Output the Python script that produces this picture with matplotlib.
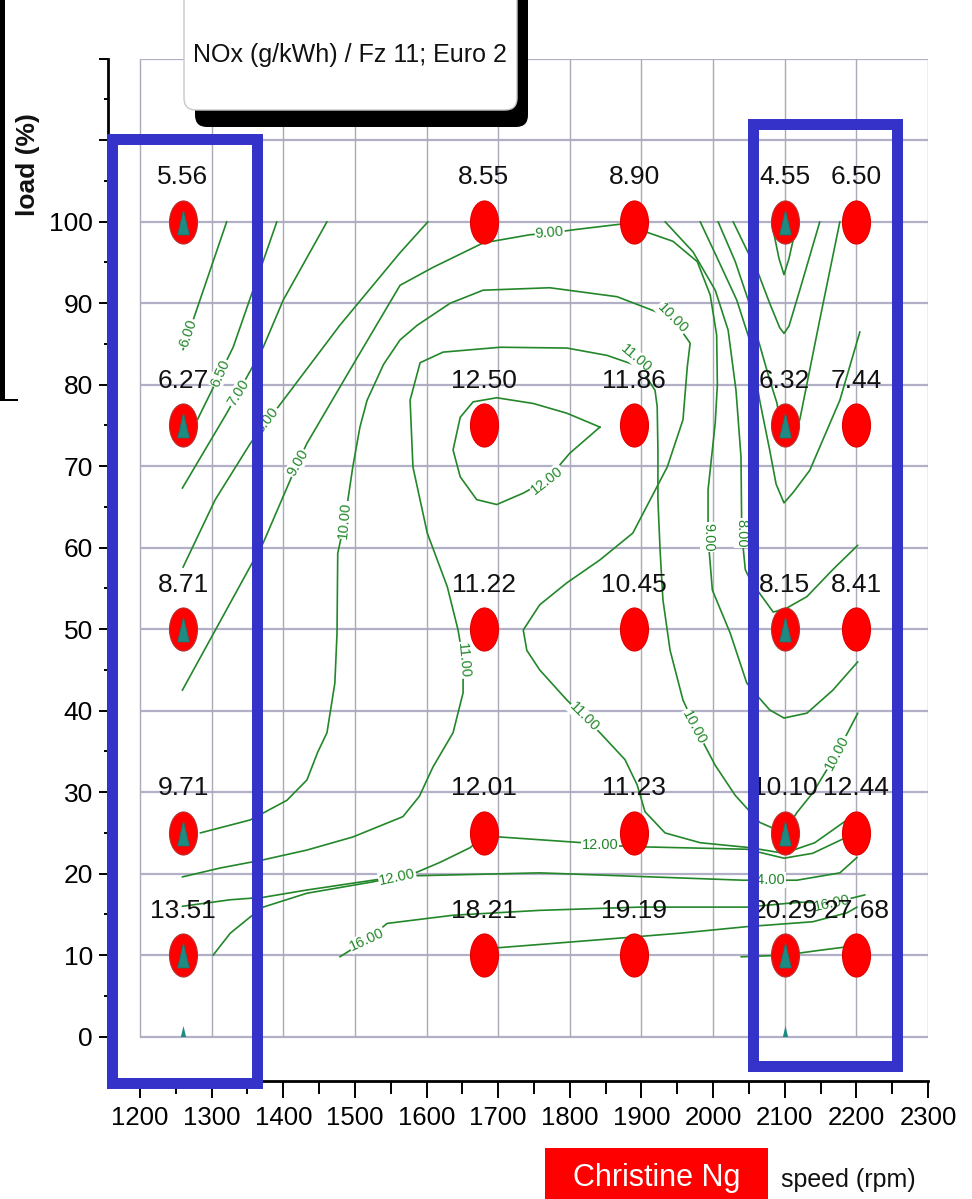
import matplotlib
matplotlib.use('Agg')
import matplotlib.pyplot as plt
from matplotlib.path import Path
from matplotlib.transforms import Affine2D
from matplotlib.patches import Rectangle, FancyBboxPatch
from matplotlib import font_manager as fm

# --- measured points: NOx (g/kWh) at speed (rpm) / load (%)
speeds = [1260, 1680, 1890, 2100, 2200]
loads = [100, 75, 50, 25, 10]
nox = [
    [5.56, 6.27, 8.71, 9.71, 13.51],    # 1260 rpm
    [8.55, 12.50, 11.22, 12.01, 18.21],  # 1680 rpm
    [8.90, 11.86, 10.45, 11.23, 19.19],  # 1890 rpm
    [4.55, 6.32, 8.15, 10.10, 20.29],    # 2100 rpm
    [6.50, 7.44, 8.41, 12.44, 27.68],    # 2200 rpm
]
tri_speeds = [1260, 2100]          # columns marked with a triangle
x_ticks = list(range(1200, 2301, 100))
y_ticks = list(range(0, 121, 10))
y_ticklabels = [str(v) if v <= 100 else '' for v in y_ticks]

# --- iso-NOx lines (speed rpm, load %)
c500 = [(2082, 99.8), (2092, 95.5), (2099, 93.5), (2106, 95.5), (2117, 99.8)]
c600_left = [(1321, 100), (1260, 84.3)]
c600_right = [(2028, 100), (2044, 97.1), (2063, 93.7), (2079, 90.0), (2093, 87.0), (2099, 86.3),
              (2106, 87.2), (2121, 91.6), (2149, 100)]
c650_left = [(1391, 100), (1330, 84.6), (1280, 75.7)]
c650_right = [(2007, 100), (2031, 95.1), (2049, 90.4), (2063, 85.5), (2079, 80.6), (2089, 77.8),
              (2099, 72.6), (2121, 75.7), (2149, 88.0), (2177, 100)]
c700_left = [(1461, 100), (1400, 90.4), (1372, 84.6), (1337, 79.0), (1321, 76.5), (1259, 67.3)]
c700_right = [(1982, 100), (2005, 95.7), (2033, 90.4), (2051, 85.5), (2065, 78.1), (2079, 72.0),
              (2088, 67.8), (2099, 65.5), (2112, 66.8), (2135, 69.5), (2177, 78.1), (2205, 86.5)]
c800_left = [(1602, 100), (1563, 96.2), (1479, 87.3), (1400, 78.1), (1354, 72.8), (1305, 65.9), (1260, 57.6)]
c800_right = [(1933, 100), (1972, 96.3), (2003, 91.6), (2021, 86.7), (2032, 79.3), (2039, 71.1),
              (2040, 61.8), (2045, 57.3), (2055, 55.5), (2065, 54.4), (2084, 52.1), (2103, 52.6),
              (2131, 54.0), (2167, 57.3), (2202, 60.3)]
c900 = [(1259, 42.5), (1372, 60.6), (1420, 70.4), (1433, 72.8), (1493, 81.8), (1563, 92.2),
        (1609, 94.4), (1679, 97.4), (1744, 98.4), (1772, 98.6), (1804, 99.0), (1880, 99.8),
        (1908, 98.7), (1944, 97.6), (1978, 95.1), (1996, 91.0), (2005, 86.1), (2006, 80.0),
        (2003, 75.3), (1993, 67.1), (1993, 61.3), (1999, 54.8), (2024, 49.5), (2047, 43.4),
        (2063, 41.7), (2079, 40.1), (2099, 39.1), (2131, 39.7), (2167, 42.5), (2202, 46.0)]
# the map's 10 and 11 lines swap over right of 11.86, drawn as they appear
c1000 = [(1284, 25.0), (1354, 26.6), (1405, 29.0), (1433, 31.5), (1448, 34.9), (1461, 37.3),
         (1472, 43.4), (1475, 49.5), (1476, 59.3), (1486, 63.4), (1497, 69.9), (1507, 74.8),
         (1517, 78.1), (1540, 82.5), (1563, 85.5), (1587, 87.3), (1633, 90.0), (1679, 91.6),
         (1772, 91.9), (1866, 90.8), (1943, 88.2), (1968, 85.1), (1964, 82.2), (1958, 75.7),
         (1936, 69.9), (1888, 61.8), (1842, 58.5), (1796, 55.7), (1758, 53.0), (1735, 49.9),
         (1740, 47.4), (1758, 45.0), (1796, 41.3), (1842, 37.3), (1877, 34.0), (1894, 30.9),
         (1905, 27.6), (1933, 25.0), (1982, 23.8), (2051, 23.2), (2099, 22.5), (2142, 23.8),
         (2187, 26.6)]
c1100 = [(1259, 19.6), (1312, 20.7), (1372, 21.7), (1433, 22.9), (1497, 24.5), (1567, 27.0),
         (1590, 29.5), (1609, 33.1), (1637, 37.3), (1651, 42.2), (1651, 46.2), (1644, 49.9),
         (1629, 55.2), (1601, 61.8), (1581, 69.9), (1577, 78.1), (1591, 82.7), (1623, 84.0),
         (1703, 84.6), (1796, 84.5), (1852, 83.6), (1898, 82.2), (1919, 79.3), (1922, 77.3),
         (1923, 72.0), (1923, 65.9), (1926, 59.7), (1930, 53.6), (1940, 47.4), (1958, 41.3),
         (1982, 36.8), (2003, 33.3), (2031, 29.6), (2065, 26.3), (2099, 25.0), (2117, 27.5),
         (2139, 29.9), (2173, 34.8), (2202, 39.7)]
c1200_loop = [(1842, 74.8), (1796, 76.5), (1749, 77.7), (1698, 78.4), (1665, 77.9), (1647, 76.0),
              (1637, 72.0), (1647, 68.7), (1670, 65.9), (1698, 65.3), (1735, 66.7), (1768, 68.3),
              (1800, 71.6), (1842, 74.8)]
c1200 = [(1259, 16.0), (1326, 16.8), (1372, 17.1), (1433, 18.0), (1525, 19.2), (1559, 19.6),
         (1587, 20.2), (1619, 21.4), (1661, 23.2), (1679, 24.6), (1703, 24.5), (1818, 23.8),
         (1842, 23.5), (1898, 23.3), (2047, 23.0), (2099, 21.9), (2139, 22.5), (2187, 24.5),
         (2202, 25.0)]
c1400 = [(1302, 10.0), (1326, 12.7), (1354, 14.7), (1372, 15.9), (1433, 17.6), (1525, 19.0),
         (1563, 19.7), (1758, 20.1), (2042, 19.2), (2075, 19.2), (2117, 19.2), (2177, 20.1),
         (2201, 22.0)]
c1600 = [(1479, 9.8), (1517, 11.9), (1545, 13.9), (1637, 14.9), (1758, 15.5), (1898, 15.9),
         (2047, 15.9), (2121, 16.5), (2166, 16.4), (2212, 17.4)]
c1800 = [(1680, 10.5), (1698, 10.9), (1842, 11.9), (1954, 12.7), (2047, 13.5), (2139, 14.1),
         (2187, 15.2), (2201, 15.9)]
c2000 = [(2039, 9.8), (2099, 10.0), (2149, 10.6), (2202, 11.2)]
iso_lines = [c500, c600_left, c600_right, c650_left, c650_right, c700_left, c700_right,
             c800_left, c800_right, c900, c1000, c1100, c1200_loop, c1200, c1400, c1600,
             c1800, c2000]

# line labels: text, speed, load, angle
iso_labels = [
    ('6.00', 1267, 86.3, 71), ('6.50', 1312, 81.4, 66), ('7.00', 1337, 79.0, 58),
    ('8.00', 1378, 75.7, 52), ('9.00', 1420, 70.4, 60), ('10.00', 1486, 63.4, 85),
    ('9.00', 1772, 98.6, 5), ('10.00', 1943, 88.2, -45), ('11.00', 1893, 83.2, -40),
    ('12.00', 1768, 68.3, 38), ('11.00', 1651, 46.2, -85), ('9.00', 1993, 61.3, -90),
    ('8.00', 2040, 61.8, -90), ('10.00', 1973, 38.0, -62), ('11.00', 1820, 39.2, -45),
    ('12.00', 1842, 23.5, 0), ('12.00', 1559, 19.6, 12), ('16.00', 1517, 11.9, 25),
    ('14.00', 2075, 19.2, 0), ('10.00', 2173, 34.8, 62), ('16.00', 2166, 16.4, 12),
]

names = {f.name for f in fm.fontManager.ttflist}
if 'Liberation Sans Narrow' in names:
    FONT, k = 'Liberation Sans Narrow', 1.2
else:
    FONT, k = 'Liberation Sans', 1.0
plt.rcParams['font.family'] = [FONT, 'DejaVu Sans']

GREEN = '#23872a'
BLUE = '#3432c8'

fig = plt.figure(figsize=(9.72, 11.99), dpi=100)
ax = fig.add_axes([0.1109, 0.0980, 0.8438, 0.8530])
ax.set_xlim(1155, 2300)
ax.set_ylim(-5.5, 120)

# grid
ax.hlines(y_ticks, 1200, 2300, color='#b2b0c6', lw=1.6, zorder=1)
ax.vlines(x_ticks, 0, 120, color='#aaaab8', lw=1.0, zorder=1)

for pts in iso_lines:
    xs, ys = zip(*pts)
    ax.plot(xs, ys, color=GREEN, lw=1.2, zorder=2, solid_joinstyle='round',
            solid_capstyle='round')

for txt, s, l, ang in iso_labels:
    ax.text(s, l, txt, color=GREEN, fontsize=10.5 * k, rotation=ang, ha='center', va='center',
            rotation_mode='anchor', zorder=3,
            bbox=dict(boxstyle='square,pad=0.05', fc='white', ec='none'))

# markers
ell = Path.unit_circle().transformed(Affine2D().scale(0.65, 1.0))
tri = Path([(-0.24, -0.5), (0.24, -0.5), (0, 0.5), (-0.24, -0.5)],
           [Path.MOVETO, Path.LINETO, Path.LINETO, Path.CLOSEPOLY])
for s, col in zip(speeds, nox):
    ax.plot([s] * len(loads), loads, ls='none', marker=ell, ms=31, mfc='#ff0000',
            mec='#e00000' if s not in tri_speeds else '#b83030', mew=0.8, zorder=4)
    if s in tri_speeds:
        ax.plot([s] * len(loads), loads, ls='none', marker=tri, ms=18, mfc='#1f8a82',
                mec='#17706a', mew=0.5, zorder=5)
        ax.plot([s], [0.7], ls='none', marker=tri, ms=8, mfc='#1f8a82', mec='none', zorder=5)
    for l, v in zip(loads, col):
        ax.annotate(f'{v:.2f}', (s, l), xytext=(0, 32), textcoords='offset points',
                    ha='center', va='center', fontsize=19 * k, color='#111111', zorder=6)

# axes styling
for side in ['top', 'right']:
    ax.spines[side].set_visible(False)
for side in ['left', 'bottom']:
    ax.spines[side].set_linewidth(2)
ax.set_xticks(x_ticks)
ax.set_xticks(list(range(1250, 2300, 100)), minor=True)
ax.set_yticks(y_ticks)
ax.set_yticklabels(y_ticklabels)
ax.set_yticks(list(range(5, 120, 10)), minor=True)
ax.tick_params(axis='x', which='major', length=12, width=1.4, pad=6.0, labelsize=18.5 * k)
ax.tick_params(axis='x', which='minor', length=9, width=1.4)
ax.tick_params(axis='y', which='major', length=6.5, width=1.4, pad=4.3, labelsize=19 * k)
ax.tick_params(axis='y', which='minor', length=3, width=1.4)

# decorations in figure inches
tr = fig.dpi_scale_trans
fig.add_artist(FancyBboxPatch((1.95, 10.72), 3.33, 1.6, boxstyle='round,pad=0,rounding_size=0.12',
                              transform=tr, fc='black', ec='none', zorder=7))
fig.add_artist(FancyBboxPatch((1.84, 10.89), 3.33, 1.6, boxstyle='round,pad=0,rounding_size=0.12',
                              transform=tr, fc='white', ec='#c8c8c8', lw=1, zorder=8))
fig.text(3.50, 11.44, 'NOx (g/kWh) / Fz 11; Euro 2', transform=tr, ha='center', va='center',
         fontsize=18 * k, color='#111111', zorder=9)

fig.add_artist(Rectangle((1.115, 1.165), 1.45, 9.435, transform=tr, fill=False, ec=BLUE,
                         lw=7.9, joinstyle='miter', zorder=10))
fig.add_artist(Rectangle((7.525, 1.33), 1.44, 9.42, transform=tr, fill=False, ec=BLUE,
                         lw=7.9, joinstyle='miter', zorder=10))

fig.add_artist(Rectangle((0, 7.99), 0.05, 4.0, transform=tr, fc='black', ec='none', zorder=10))
fig.add_artist(Rectangle((0, 7.985), 0.18, 0.012, transform=tr, fc='black', ec='none', zorder=10))

fig.add_artist(Rectangle((5.45, -0.1), 2.23, 0.61, transform=tr, fc='#ff0000', ec='none', zorder=10))
fig.text(6.565, 0.21, 'Christine Ng', transform=tr, ha='center', va='center', fontsize=22 * k,
         color='white', zorder=11)
fig.text(8.48, 0.19, 'speed (rpm)', transform=tr, ha='center', va='center', fontsize=18 * k,
         color='#111111')
fig.text(0.28, 10.34, 'load (%)', transform=tr, ha='center', va='center', fontsize=19,
         rotation=90, fontweight='bold', family='Liberation Sans', color='#111111')

fig.savefig('out.png', dpi=100)
